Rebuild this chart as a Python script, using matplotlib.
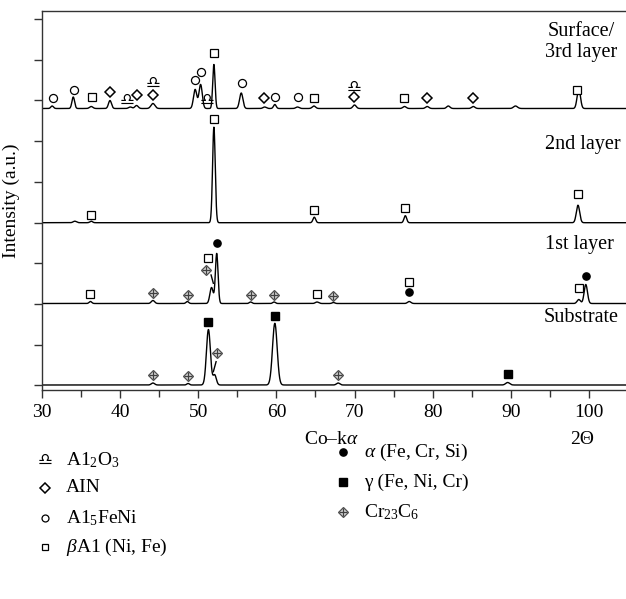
import numpy as np
import matplotlib
matplotlib.use("Agg")
import matplotlib.pyplot as plt

plt.rcParams['font.family'] = ['Liberation Serif', 'DejaVu Serif']
plt.rcParams['mathtext.fontset'] = 'custom'
plt.rcParams['mathtext.rm'] = 'Liberation Serif'
plt.rcParams['mathtext.it'] = 'Liberation Serif:italic'

# ---------------- data (2θ, height above baseline, FWHM) ----------------
pattern_names = ["Surface/\n3rd layer", "2nd layer", "1st layer", "Substrate"]
baselines = [281.5, 167.3, 86.5, 5.0]

surface_pos = [31.3, 34.0, 36.3, 38.7, 41.3, 42.1, 44.2, 49.6, 50.3, 52.0, 55.5,
               58.5, 59.8, 62.7, 64.8, 70.0, 76.4, 79.3, 82.0, 85.2, 90.6, 98.7]
surface_h = [2.5, 11.5, 2.0, 8.0, 1.5, 3.0, 5.0, 19.0, 24.0, 44.0, 15.5,
             1.5, 4.0, 1.5, 2.5, 3.5, 2.0, 2.0, 2.5, 2.0, 2.5, 20.0]
surface_w = [0.4, 0.4, 0.5, 0.45, 0.5, 0.5, 0.6, 0.5, 0.5, 0.35, 0.5,
             0.5, 0.4, 0.5, 0.5, 0.5, 0.5, 0.5, 0.5, 0.5, 0.6, 0.5]

layer2_pos = [34.2, 36.3, 52.0, 64.85, 76.5, 98.6]
layer2_h = [1.5, 1.5, 95.5, 5.5, 7.0, 17.5]
layer2_w = [0.5, 0.4, 0.4, 0.4, 0.4, 0.5]

layer1_pos = [36.2, 44.2, 48.6, 51.7, 52.36, 56.7, 59.7, 65.2, 67.3, 77.0, 98.7, 99.6]
layer1_h = [2.0, 3.0, 2.0, 16.0, 50.0, 1.5, 1.5, 1.5, 1.0, 2.0, 4.0, 19.0]
layer1_w = [0.4, 0.5, 0.4, 0.5, 0.4, 0.4, 0.4, 0.5, 0.4, 0.5, 0.5, 0.5]

subst_pos = [44.2, 48.7, 51.3, 52.1, 59.8, 67.9, 89.6]
subst_h = [2.0, 1.5, 55.5, 10.0, 61.7, 2.0, 2.5]
subst_w = [0.5, 0.4, 0.6, 0.5, 0.7, 0.5, 0.6]

# ---------------- phase markers (2θ, y) ----------------
al5feni_x = [31.35, 34.1, 49.6, 50.3, 55.55, 59.83, 62.74]
al5feni_y = [292.3, 300, 310, 318.3, 306.7, 293, 293]

betaal_x = [36.35, 52.05, 64.75, 76.35, 98.5,
            36.3, 52.0, 64.87, 76.5, 98.55,
            36.1, 51.2, 65.2, 76.95, 98.67]
betaal_y = [293.3, 336.7, 292, 292, 300.5,
            175, 271, 180, 182, 196,
            95.7, 132.3, 96, 108.3, 102.3]

aln_x = [38.7, 42.1, 44.25, 58.45, 69.95, 79.3, 85.2]
aln_y = [298.3, 295, 295, 292.3, 293, 292, 292]

al2o3_x = [40.85, 44.25, 51.1, 69.95]
al2o3_y = [290, 306.7, 290, 303.3]

alpha_x = [52.4, 76.95, 99.6]
alpha_y = [146.7, 97.7, 114]

gamma_x = [51.3, 59.83, 89.7]
gamma_y = [67.7, 74, 16]

cr23c6_x = [44.2, 48.65, 51.0, 56.7, 59.7, 67.3, 44.25, 48.65, 52.45, 67.86]
cr23c6_y = [97.3, 95, 120, 95, 95, 94.3, 15, 14, 36.7, 15]

leader_x = [[51.64, 51.93], [52.28, 51.93]]
leader_y = [[115, 106.7], [28.3, 18.3]]

yticks = [5, 45, 86, 127, 167, 208, 249, 290, 330, 371]

# ---------------- figure ----------------
W, H = 626, 599
fig = plt.figure(figsize=(W / 100, H / 100), dpi=100)
ax = fig.add_axes([42 / W, 1 - 390 / H, (628 - 42) / W, (390 - 11) / H])

x = np.linspace(30, 105, 4000)


def profile(pos, h, w, base):
    y = np.full_like(x, base)
    for p, hh, ww in zip(pos, h, w):
        y += hh * np.exp(-4 * np.log(2) * (x - p) ** 2 / ww ** 2)
    return y


for pos, h, w, b in [(surface_pos, surface_h, surface_w, baselines[0]),
                     (layer2_pos, layer2_h, layer2_w, baselines[1]),
                     (layer1_pos, layer1_h, layer1_w, baselines[2]),
                     (subst_pos, subst_h, subst_w, baselines[3])]:
    ax.plot(x, profile(pos, h, w, b), color='black', lw=1.0)

for lx, ly in zip(leader_x, leader_y):
    ax.plot(lx, ly, color='black', lw=1.0)

ax.plot(al5feni_x, al5feni_y, 'o', ms=5.8, mfc='white', mec='black', mew=0.9, ls='none')
ax.plot(betaal_x, betaal_y, 's', ms=5.5, mfc='white', mec='black', mew=0.9, ls='none')
ax.plot(aln_x, aln_y, 'D', ms=5.0, mfc='white', mec='black', mew=1.1, ls='none')
ax.plot(alpha_x, alpha_y, 'o', ms=5.2, mfc='black', mec='black', ls='none')
ax.plot(gamma_x, gamma_y, 's', ms=6.0, mfc='black', mec='black', ls='none')
ax.plot(cr23c6_x, cr23c6_y, 'D', ms=5.5, mfc='#d8d8d8', mec='#505050', mew=0.9, ls='none')
ax.plot(cr23c6_x, cr23c6_y, '+', ms=5.5, mec='#404040', mew=0.9, ls='none')
for xx, yy in zip(al2o3_x, al2o3_y):
    ax.text(xx, yy, '\u264e', family='DejaVu Sans', fontsize=12, ha='center',
            va='center', color='black', fontweight='bold')

ax.set_xlim(30, 105)
ax.set_ylim(0, 379)
ax.set_xticks(np.arange(30, 101, 10))
ax.set_xticks(np.arange(35, 106, 10), minor=True)
ax.set_yticks(yticks)
ax.set_yticklabels([])
ax.tick_params(axis='both', which='both', direction='out', width=1.0, color='#333333')
ax.tick_params(axis='both', which='major', length=6, labelsize=14, pad=4)
ax.tick_params(axis='x', which='minor', length=5)
for s in ['left', 'bottom', 'top']:
    ax.spines[s].set_linewidth(1.0)
    ax.spines[s].set_color('#333333')
ax.spines['right'].set_visible(False)

ax.set_ylabel('Intensity (a.u.)', fontsize=14, labelpad=6)

# curve labels (pixel positions)
def ftext(px, py, s, **kw):
    fig.text(px / W, 1 - py / H, s, **kw)

ftext(581, 42, pattern_names[0], ha='center', va='center', fontsize=14.5, linespacing=1.15)
ftext(583, 145, pattern_names[1], ha='center', va='center', fontsize=14.5)
ftext(579, 245, pattern_names[2], ha='center', va='center', fontsize=14.5)
ftext(581, 318, pattern_names[3], ha='center', va='center', fontsize=14.5)

ftext(331, 440, 'Co\u2013k$\\it{\\alpha}$', ha='center', va='center', fontsize=14)
ftext(582, 440, '2\u0398', ha='center', va='center', fontsize=14)

# legend
leg_left = ["A1$_2$O$_3$", "AIN", "A1$_5$FeNi", "$\\it{\\beta}$A1 (Ni, Fe)"]
leg_right = ["$\\it{\\alpha}$ (Fe, Cr, Si)", "\u03b3 (Fe, Ni, Cr)", "Cr$_{23}$C$_6$"]
left_y = [460, 488, 518, 547]
right_y = [452, 482, 512]
for s, py in zip(leg_left, left_y):
    ftext(66, py, s, ha='left', va='center', fontsize=14)
for s, py in zip(leg_right, right_y):
    ftext(364, py, s, ha='left', va='center', fontsize=14)

lax = fig.add_axes([0, 0, 1, 1], facecolor='none')
lax.set_xlim(0, W)
lax.set_ylim(H, 0)
lax.axis('off')
lax.text(45, left_y[0], '\u264e', family='DejaVu Sans', fontsize=12, ha='center',
         va='center', fontweight='bold')
lax.plot([45], [left_y[1]], 'D', ms=5.0, mfc='white', mec='black', mew=1.1)
lax.plot([45], [left_y[2]], 'o', ms=5.0, mfc='white', mec='black', mew=0.9)
lax.plot([45], [left_y[3]], 's', ms=5.0, mfc='white', mec='black', mew=0.9)
lax.plot([343], [right_y[0]], 'o', ms=5.2, mfc='black', mec='black')
lax.plot([343], [right_y[1]], 's', ms=5.8, mfc='black', mec='black')
lax.plot([343], [right_y[2]], 'D', ms=5.5, mfc='#d8d8d8', mec='#505050', mew=0.9)
lax.plot([343], [right_y[2]], '+', ms=5.5, mec='#404040', mew=0.9)

fig.savefig('out.png', dpi=100)
